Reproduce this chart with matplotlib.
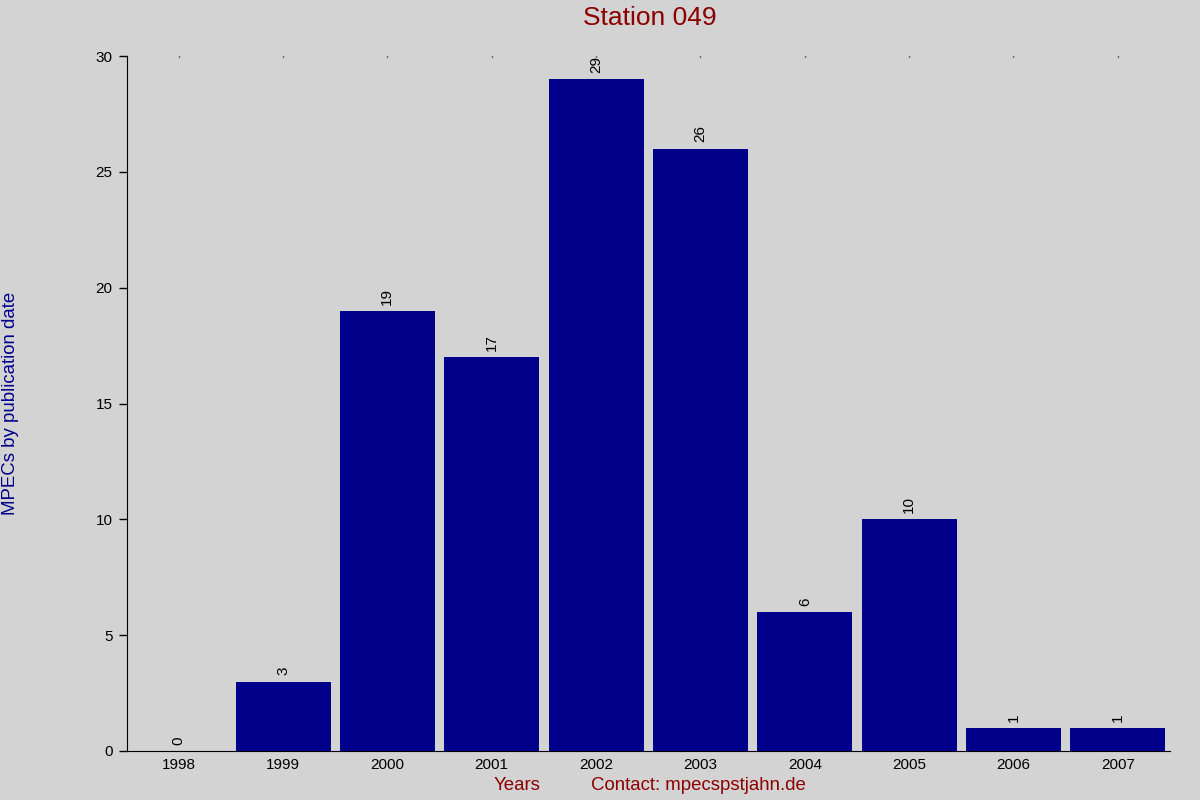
import matplotlib
matplotlib.use('Agg')
import matplotlib.pyplot as plt

years = ['1998', '1999', '2000', '2001', '2002', '2003', '2004', '2005', '2006', '2007']
counts = [0, 3, 19, 17, 29, 26, 6, 10, 1, 1]

plt.rcParams['font.family'] = ['Liberation Sans', 'DejaVu Sans']

fig = plt.figure(figsize=(12, 8), dpi=100, facecolor='lightgray')
ax = fig.add_axes([126.5 / 1200, 49 / 800, 1043.5 / 1200, 695 / 800])
ax.set_facecolor('lightgray')

x = range(len(years))
ax.bar(x, counts, width=0.91, color='darkblue')
for xi, val in zip(x, counts):
    ax.annotate(str(val), (xi, val), xytext=(0, 4.5), textcoords='offset points',
                rotation=90, ha='center', va='bottom', fontsize=11)

ax.set_xlim(-0.5, len(years) - 0.5)
ax.set_ylim(0, 30)
ax.set_xticks(list(x))
ax.set_xticklabels(years, fontsize=11)
ax.set_yticks([0, 5, 10, 15, 20, 25, 30])
ax.tick_params(axis='y', length=6, width=1, labelsize=11, pad=4)
# tiny marks at the top of each category
ax.tick_params(axis='x', which='major', bottom=False, top=True, direction='in',
               length=1, width=1, pad=5)

for side in ['top', 'right']:
    ax.spines[side].set_visible(False)

fig.text(11 / 1200, 1 - 403 / 800, 'MPECs by publication date', rotation=90,
         ha='center', va='center', color='darkblue', fontsize=13.4)
fig.text(650 / 1200, 1 - 18 / 800, 'Station 049', ha='center', va='center',
         color='darkred', fontsize=19)
fig.text(517 / 1200, 1 - 786 / 800, 'Years', ha='center', va='center',
         color='darkred', fontsize=13.4)
fig.text(698 / 1200, 1 - 786 / 800, 'Contact: mpecspstjahn.de', ha='center', va='center',
         color='darkred', fontsize=13.4)

fig.savefig('out.png', dpi=100, facecolor='lightgray')
